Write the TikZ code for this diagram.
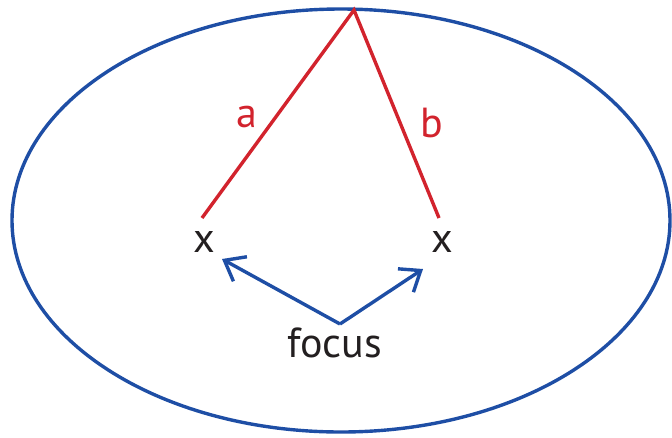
\documentclass[tikz,border=0pt]{standalone}
\usepackage{fontspec}
\setmainfont{PT Sans}
\usetikzlibrary{positioning,arrows.meta}

\definecolor{ringblue}{RGB}{30,78,165}
\definecolor{sidered}{RGB}{210,35,45}
\definecolor{ink}{RGB}{35,31,32}

\begin{document}
\begin{tikzpicture}[x=1pt, y=-1pt,
    ring/.style={draw=ringblue, line width=3.4pt},
    side/.style={draw=sidered, line width=3.4pt},
    pointer/.style={draw=ringblue, line width=3.4pt,
      -{Straight Barb[length=18pt, width=28pt, line width=3.4pt]}},
    word/.style={font=\fontsize{42}{46}\selectfont, text=ink, inner sep=0pt, anchor=base},
    sidelab/.style={word, text=sidered}]

  \useasboundingbox (0,0) rectangle (672,437);

  % the ellipse
  \draw[ring] (341,220.5) ellipse [x radius=329, y radius=211.5];

  % foci
  \node[word] (fl) at (204,252) {x};
  \node[word] (fr) at (442,252) {x};

  % the two distances
  \coordinate (top) at (354,10);
  \coordinate (fl-end) at (202,218);
  \coordinate (fr-end) at (439,218);
  \draw[side] (fl-end) -- (top) -- (fr-end);
  \node[sidelab] (a) at (246.5,127) {a};
  \node[sidelab] (b) at (432,137) {b};

  % focus label and arrows
  \node[word] (focus) at (334.5,357) {focus};
  \coordinate (fork) at (340,324);
  \coordinate (fl-tip) at (222,259);
  \coordinate (fr-tip) at (423,269);
  \draw[pointer] (fork) -- (fl-tip);
  \draw[pointer] (fork) -- (fr-tip);

\end{tikzpicture}
\end{document}
